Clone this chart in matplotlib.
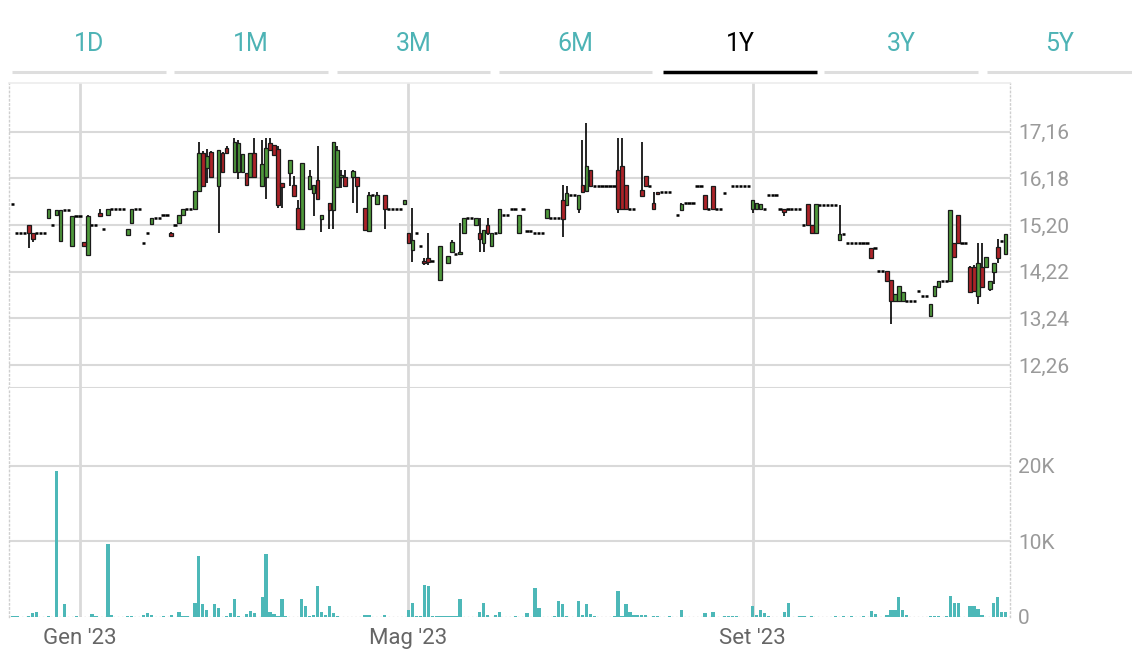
import numpy as np
import pandas as pd
import matplotlib
matplotlib.use("Agg")
import matplotlib.pyplot as plt
from matplotlib.lines import Line2D

plt.rcParams['font.family'] = ['Roboto', 'DejaVu Sans']

N = np.nan

# ---------------- data ----------------
holidays = ['2022-12-26', '2023-04-07', '2023-04-10', '2023-05-01', '2023-08-15']
dates = pd.bdate_range('2022-12-07', '2023-11-30', freq='C', holidays=holidays)

tabs = ['1D', '1M', '3M', '6M', '1Y', '3Y', '5Y']
active_tab = '1Y'
month_names = {1: 'Gen', 5: 'Mag', 9: 'Set'}
price_ticks = [12.26, 13.24, 14.22, 15.20, 16.18, 17.16]
volume_ticks = [0, 10000, 20000]
volume_labels = ['0', '10K', '20K']

closes = [
    15.64, 15.03, 15.03, 15.03, 15.03, 14.90, 15.03, 15.03, 15.03, 15.54,
    15.20, 15.51, 15.51, 15.51, 15.51, 15.38, 15.38, 15.38, 14.76, 15.38,
    15.21, 15.20, 15.38, 15.11, 15.54, 15.54, 15.54, 15.54, 15.54, 15.11,
    15.53, 15.53, 15.53, 14.83, 15.03, 15.34, 15.34, 15.34, 15.41, 15.41,
    14.98, 15.20, 15.41, 15.53, 15.53, 15.53, 15.92, 16.71, 16.02, 16.64,
    16.20, N, 16.78, 16.32, 16.71, N, 16.95, 16.92, 16.69, 16.04,
    16.71, 16.20, N, 16.48, 16.81, 16.78, 16.67, 15.62, 16.00, N,
    16.57, 15.81, 15.12, 16.50, N, 16.22, 16.04, 15.74, 15.41, N,
    15.52, 16.95, 16.78, 16.25, 16.02, N, 16.34, 16.02, N, 15.10,
    15.83, 15.83, 15.83, N, 15.53, 15.53, 15.53, 15.53, 15.53, 15.72,
    14.83, 14.89, 15.03, 14.75, 14.40, 14.43, 14.45, N, 14.75, N,
    14.55, 14.85, 14.59, 14.61, 15.34, 15.34, 15.34, 15.34, 14.90, 15.10,
    15.03, 15.03, 15.03, 15.53, 15.41, 15.41, 15.53, 15.53, 15.41, 15.53,
    15.07, 15.07, 15.03, 15.03, 15.03, 15.53, 15.34, 15.34, 15.34, 15.32,
    15.87, 15.83, 15.83, 15.83, 15.90, 16.43, 16.02, 16.02, 16.02, 16.02,
    16.02, 16.02, 16.02, 15.53, 15.53, 15.53, 15.53, 15.53, N, 15.81,
    16.02, 16.02, 15.53, 15.85, 15.90, 15.90, 15.90, N, 15.41, 15.64,
    15.66, 15.66, 15.66, 16.02, 16.02, 15.53, 15.53, 15.53, 15.53, 15.53,
    15.88, N, 16.02, 16.02, 16.02, 16.02, 16.02, 15.73, 15.66, 15.64,
    15.53, 15.83, 15.83, 15.83, 15.53, 15.48, 15.53, 15.53, 15.53, 15.53,
    15.20, 15.20, 15.03, 15.64, 15.62, 15.62, 15.62, 15.62, 15.62, 15.02,
    15.02, 14.82, 14.82, 14.82, 14.82, 14.82, 14.82, 14.50, 14.71, 14.23,
    14.23, 14.02, 13.60, 13.75, 13.91, 13.79, 13.61, 13.61, 13.61, 13.81,
    13.72, 13.72, 13.54, 13.91, 14.03, 14.03, 14.03, 15.51, 14.52, 14.83,
    14.83, 14.83, 13.79, 13.82, 14.41, 13.89, 14.52, 14.03, 14.41, 14.50,
    14.87, 15.02,
]

# None = no trade range (open = high = low = close)
opens = [
    None, None, None, None, 15.20, 15.03, None, None, None, 15.34,
    None, 15.41, 14.87, None, None, 14.76, None, None, 14.85, 14.57,
    None, None, 15.45, None, 15.42, None, None, None, None, 14.99,
    15.25, None, None, None, None, 15.22, None, None, None, None,
    15.04, None, 15.24, 15.41, None, None, 15.53, 15.92, 16.71, 16.39,
    16.74, None, 16.02, 16.71, 16.82, None, 16.32, 16.32, 16.32, 16.29,
    16.20, 16.71, None, 16.02, 16.20, 16.92, 16.88, 16.79, 16.08, None,
    16.30, 16.04, 15.55, 15.12, None, 15.95, 15.87, 16.15, 15.32, None,
    15.67, 15.52, 16.00, 16.20, 16.20, None, 16.20, 16.20, None, 15.55,
    15.08, None, 15.64, None, 15.83, None, None, None, None, 15.64,
    15.04, 14.68, None, None, 14.45, 14.51, None, None, 14.05, None,
    14.40, 14.64, None, 14.59, 15.03, None, None, 15.20, 15.04, 14.82,
    15.20, 14.75, None, 15.03, None, None, None, None, 15.03, None,
    None, None, None, None, None, 15.34, None, None, None, 15.73,
    15.62, None, None, 15.53, 16.04, 15.92, 16.36, None, None, None,
    None, None, None, 16.36, 16.43, 16.04, None, None, None, 15.94,
    16.23, None, 15.66, 15.90, None, None, None, None, None, 15.52,
    None, None, None, None, None, 15.83, None, 16.02, None, None,
    None, None, None, None, None, None, None, 15.53, 15.53, 15.53,
    None, None, None, None, None, 15.53, None, None, None, None,
    None, 15.64, 15.20, 15.03, None, None, None, None, None, 14.88,
    None, None, None, None, None, None, None, 14.71, None, None,
    None, 14.23, 14.05, 13.60, 13.60, 13.60, None, None, None, None,
    None, None, 13.30, 13.72, 13.89, None, None, 14.03, 14.83, 15.42,
    None, None, 14.32, 14.32, 13.72, 14.32, 14.32, 13.86, 14.21, 14.73,
    None, 14.60,
]

# None = high equals top of the body
highs = [
    None, None, None, None, None, None, None, None, None, None,
    None, None, None, None, None, None, None, None, None, 15.42,
    None, None, 15.54, None, None, None, None, None, None, None,
    None, None, None, None, None, None, None, None, None, None,
    15.05, None, None, None, None, None, None, 16.95, 16.76, 16.80,
    16.76, None, None, 16.74, 16.85, None, 17.02, 16.99, None, None,
    None, 17.02, None, 16.99, 17.02, 17.02, None, 16.85, None, None,
    None, 16.23, 15.73, None, None, 16.36, None, 16.85, None, None,
    None, None, 16.85, 16.36, 16.36, None, 16.36, None, None, None,
    15.90, None, 15.90, None, None, None, None, None, None, None,
    None, 15.55, None, None, 14.50, 15.04, None, None, 14.76, None,
    None, 14.89, None, 15.24, None, None, None, None, 15.34, None,
    15.34, None, None, None, None, None, None, None, None, None,
    None, None, None, None, None, None, None, None, None, 16.04,
    16.02, None, None, None, 16.99, 17.34, None, None, None, None,
    None, None, None, 17.02, 17.02, None, None, None, None, 16.95,
    None, None, 15.90, None, None, None, None, None, None, 15.66,
    None, None, None, None, None, None, None, None, None, None,
    None, None, None, None, None, None, None, None, None, None,
    None, None, None, None, None, None, None, None, None, None,
    None, None, None, None, None, None, None, None, None, 15.62,
    None, None, None, None, None, None, None, None, None, None,
    None, None, None, None, None, None, None, None, None, None,
    None, None, None, None, None, None, None, None, None, None,
    None, None, 14.34, 14.36, 14.83, 14.83, None, None, None, 14.90,
    None, None,
]

# None = low equals bottom of the body
lows = [
    None, None, None, None, 14.72, 14.85, None, None, None, None,
    None, None, None, None, None, None, None, None, None, None,
    None, None, None, None, None, None, None, None, None, None,
    None, None, None, None, None, None, None, None, None, None,
    14.94, None, None, None, None, None, None, None, None, 16.09,
    None, None, 15.03, None, None, None, None, 16.16, None, None,
    None, None, None, None, 15.74, None, None, 15.55, 15.55, None,
    16.02, None, None, None, None, None, 15.38, None, 15.06, None,
    15.12, 15.11, None, 15.97, None, None, 15.66, 15.45, None, None,
    None, None, None, None, 15.12, None, None, None, None, None,
    None, 14.43, None, None, 14.36, 14.36, None, None, None, None,
    None, None, None, None, None, None, None, None, 14.64, 14.64,
    14.99, None, None, None, None, None, None, None, None, None,
    None, None, None, None, None, None, None, None, None, 14.94,
    None, None, None, 15.45, None, None, None, None, None, None,
    None, None, None, 15.45, None, None, None, None, None, None,
    None, None, None, None, None, None, None, None, None, None,
    None, None, None, None, None, None, None, None, None, None,
    None, None, None, None, None, None, None, 15.45, None, None,
    None, None, None, None, None, 15.38, None, None, None, None,
    None, None, None, None, None, None, None, None, None, None,
    None, None, None, None, None, None, None, None, None, None,
    None, None, 13.13, None, None, None, None, None, None, None,
    None, None, None, None, None, None, None, None, None, None,
    None, None, None, None, 13.55, None, None, 13.81, 13.96, 14.41,
    None, None,
]

volumes_k = [
    0.1, 0.1, 0, 0, 0.1, 0.5, 0.7, 0, 0, 0.1,
    0, 19.3, 0, 1.7, 0, 0, 0.15, 0, 0, 0,
    0.4, 0.1, 0, 0, 9.65, 0.2, 0, 0, 0, 0.1,
    0.1, 0, 0, 0.2, 0.5, 0.3, 0, 0, 0.1, 0,
    0.3, 0, 0.7, 0.1, 0.1, 0, 1.9, 8.1, 1.7, 0.9,
    0, 1.7, 1.25, 0, 0.1, 0.5, 2.4, 0.1, 0, 0.45,
    0.75, 0.5, 0, 2.7, 8.3, 0.7, 0.45, 0.15, 2.4, 0.1,
    0, 0, 0, 2.4, 1.5, 0.15, 0.2, 4.1, 0.7, 0.2,
    1.5, 0.5, 0.1, 0.05, 0.05, 0.05, 0.05, 0.05, 0.05, 0.2,
    0.2, 0.05, 0.05, 0, 0.2, 0, 0, 0, 0, 0,
    0.95, 1.9, 0.1, 0.1, 4.3, 4.05, 0.1, 0.15, 0.15, 0.1,
    0.15, 0.1, 0.1, 2.4, 0, 0, 0, 0, 0.6, 1.9,
    0.3, 0, 0.2, 0.7, 0, 0, 0, 0.1, 0, 0,
    0.5, 0, 3.8, 1.15, 0, 0, 0, 0.1, 2.1, 1.7,
    0.1, 0, 0, 2.1, 0.2, 1.7, 0.45, 0.1, 0, 0,
    0, 0, 0.1, 3.45, 0.1, 1.7, 0.6, 0.3, 0.3, 0.2,
    0.2, 0, 0.15, 0.15, 0, 0, 0.15, 0, 0, 0.95,
    0, 0, 0, 0, 0, 0.5, 0, 0.7, 0, 0,
    0.1, 0.1, 0.1, 0.1, 0, 0, 0, 1.5, 0.2, 0.95,
    0.5, 0.1, 0, 0, 0, 0.7, 1.9, 0, 0, 0.15,
    0.15, 0, 0.15, 0, 0, 0, 0, 0, 0.15, 0,
    0.1, 0, 0.1, 0, 0, 0.1, 0, 0.85, 0.45, 0,
    0, 0.2, 0.95, 0.9, 2.6, 0.95, 0.3, 0, 0, 0,
    0, 0, 0.1, 0.1, 0.1, 0, 0.1, 2.8, 1.9, 1.8,
    0, 0, 1.5, 1.5, 1.1, 0.3, 0, 0, 1.9, 2.7,
    0.6, 0.7,
]

# ---------------- prepare ----------------
n = len(dates)
idx = np.arange(n)
c = np.array(closes, float)
o = np.array([cl if op is None else op for op, cl in zip(opens, closes)], float)
h = np.array([max(oo, cc) if hh is None else hh for hh, oo, cc in zip(highs, o, c)], float)
l = np.array([min(oo, cc) if ll is None else ll for ll, oo, cc in zip(lows, o, c)], float)
v = np.array(volumes_k, float) * 1000

GREEN = '#4f9a3c'
RED = '#ad2328'
EDGE = '#1a1a1a'
TEAL = '#4db8b8'
GRID = '#d9d9d9'

W, HH = 1132, 664
def fx(px):
    return px / W
def fy(py):
    return 1 - py / HH

fig = plt.figure(figsize=(W / 100, HH / 100), dpi=100)
fig.patch.set_facecolor('white')

left, right = 9, 1010
top_p, bot_p, bot_v = 83, 388, 617
axp = fig.add_axes([fx(left), fy(bot_p), (right - left) / W, (bot_p - top_p) / HH])
axv = fig.add_axes([fx(left), fy(bot_v), (right - left) / W, (bot_v - bot_p) / HH], sharex=axp)

# month starts
month_pos, month_lab = [], []
for k in range(1, n):
    if dates[k].month != dates[k - 1].month and dates[k].month in month_names:
        month_pos.append(k)
        month_lab.append(f"{month_names[dates[k].month]} '{dates[k].strftime('%y')}")

# ---------------- price candles ----------------
valid = ~np.isnan(c)
flat = valid & (h - l < 1e-9)
cand = valid & ~flat

axp.hlines(c[flat], idx[flat] - 0.45, idx[flat] + 0.35, color='black', lw=1.8, zorder=4)
axp.vlines(idx[cand], l[cand], h[cand], color='black', lw=1.2, zorder=3)
up = cand & (c >= o)
dn = cand & (c < o)
for mask, col in ((up, GREEN), (dn, RED)):
    bottom = np.minimum(o[mask], c[mask])
    height = np.maximum(np.abs(c[mask] - o[mask]), 0.035)
    axp.bar(idx[mask], height, bottom=bottom, width=0.92, color=col,
            edgecolor=EDGE, linewidth=0.9, zorder=5)

# ---------------- volume ----------------
axv.bar(idx, v, width=0.82, color=TEAL, zorder=4, linewidth=0)

# ---------------- axes styling ----------------
axp.set_xlim(-1.01, 252.1)
axp.set_ylim(11.78, 18.18)
axv.set_ylim(0, 30330)

for ax in (axp, axv):
    for m in month_pos:
        ax.axvline(m, color=GRID, lw=2, zorder=1)
    ax.set_facecolor('white')
    ax.tick_params(axis='both', length=0)
    ax.yaxis.tick_right()
    for s in ('left', 'right'):
        ax.spines[s].set_color('#cfcfcf')
        ax.spines[s].set_linestyle((0, (1, 2)))
        ax.spines[s].set_linewidth(1)

axp.spines['top'].set_color('#ececec')
axp.spines['top'].set_linewidth(1.2)
axp.spines['bottom'].set_color(GRID)
axp.spines['bottom'].set_linewidth(1.5)
axv.spines['top'].set_visible(False)
axv.spines['bottom'].set_visible(False)

axp.set_yticks(price_ticks)
axp.set_yticklabels([f"{t:.2f}".replace('.', ',') for t in price_ticks])
for t in price_ticks:
    axp.axhline(t, color=GRID, lw=1.5, zorder=1)
axp.tick_params(axis='y', labelsize=15, labelcolor='#9a9a9a', pad=6)
axp.tick_params(axis='x', labelbottom=False)

axv.set_yticks(volume_ticks)
axv.set_yticklabels(volume_labels)
for t in volume_ticks[1:]:
    axv.axhline(t, color=GRID, lw=1.5, zorder=1)
axv.axhline(0, color='#bdbdbd', lw=1, ls=(0, (1, 2)), zorder=2)
axv.tick_params(axis='y', labelsize=15, labelcolor='#9a9a9a', pad=6)
axv.set_xticks(month_pos)
axv.set_xticklabels(month_lab)
axv.tick_params(axis='x', labelsize=16, labelcolor='#666666', pad=8)

# ---------------- range tabs ----------------
seg_edges = [(12, 166), (174, 328), (337, 490), (499, 652), (663, 817), (824, 978), (987, 1132)]
for lab, (a, b) in zip(tabs, seg_edges):
    active = lab == active_tab
    fig.text(fx((a + b) / 2), fy(44), lab, ha='center', va='center', fontsize=18,
             color='black' if active else '#4db3b5')
    fig.add_artist(Line2D([fx(a), fx(b)], [fy(72), fy(72)], transform=fig.transFigure,
                          color='black' if active else '#dedede',
                          lw=2.5 if active else 2.2, solid_capstyle='butt'))

fig.savefig('out.png', dpi=100, facecolor='white')
